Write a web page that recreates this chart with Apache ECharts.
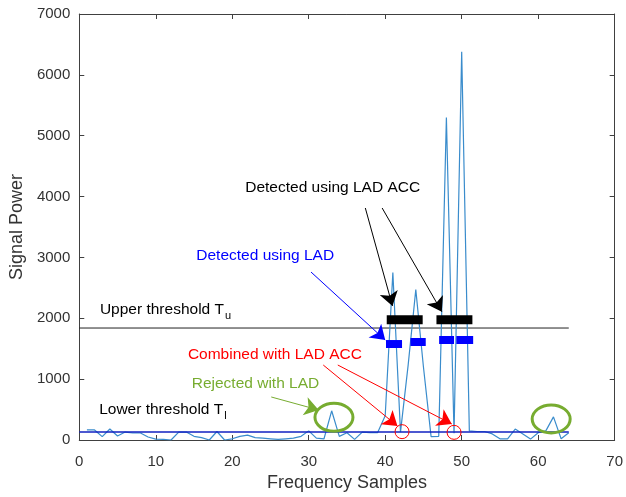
<!DOCTYPE html>
<html>
<head>
<meta charset="utf-8">
<script src="https://cdn.jsdelivr.net/npm/echarts@6/dist/echarts.min.js"></script>
<style>
  html, body { margin: 0; padding: 0; background: #fff; }
  #chart { width: 626px; height: 497px; }
</style>
</head>
<body>
<div id="chart"></div>
<script>
// frequency samples 1..64 and the measured signal power
const samples = Array.from({ length: 64 }, (_, i) => i + 1);
const power = [
  165, 165, 55, 180, 65, 130, 115, 115, 50, 15,
  10, 0, 130, 130, 60, 40, 0, 140, 0, 20,
  60, 80, 40, 30, 20, 10, 20, 30, 60, 150,
  30, 20, 480, 60, 120, 10, 130, 120, 120, 400,
  2750, 130, 1230, 2470, 1200, 55, 60, 5300, 110, 6380,
  150, 140, 140, 100, 20, 20, 180, 100, 15, 120,
  150, 380, 20, 120
];
const xTicks = [0, 10, 20, 30, 40, 50, 60, 70];
const yTicks = [0, 1000, 2000, 3000, 4000, 5000, 6000, 7000];

// thresholds
const upperThreshold = 1840;
const lowerThreshold = 130;
const thresholdEnd = 64;

// detections: [fromSample, toSample, level]
const accBands = [[40.2, 44.9, 1975], [46.7, 51.4, 1975]];
const ladBands = [[40.1, 42.2, 1577], [43.3, 45.3, 1610], [47.05, 49.0, 1643], [49.3, 51.5, 1643]];
// combined (red circles) and rejected (green ellipses) points
const combinedPts = [[42.2, 137], [49.0, 126]];
const rejectedPts = [[33.3, 373], [61.7, 345]];

// annotation texts: [x, y, text, kind]
const notes = [
  [21.7, 4141, "Detected using LAD ACC", "acc"],
  [15.3, 3023, "Detected using LAD", "lad"],
  [2.7, 2136, "Upper threshold T{s|u}", "acc"],
  [14.2, 1397, "Combined with LAD ACC", "comb"],
  [14.7, 920, "Rejected with LAD", "rej"],
  [2.6, 493, "Lower threshold T{s|l}", "acc"]
];
// arrows: [[x0, y0], [x1, y1], kind]
const arrows = [
  [[37.4, 3812], [40.95, 2202], "acc"],
  [[39.6, 3812], [47.4, 2108], "acc"],
  [[30.3, 2760], [40.0, 1643], "lad"],
  [[31.9, 1232], [41.6, 230], "comb"],
  [[33.8, 1232], [48.7, 263], "comb"],
  [[25.1, 707], [31.3, 493], "rej"]
];

const colors = { acc: "#000000", lad: "#0000ff", comb: "#ff0000", rej: "#77ac30" };
const font = "Liberation Sans, Arial, sans-serif";
const axisColor = "#404040";

const chart = echarts.init(document.getElementById("chart"));

function bandSeries(bands, color, width) {
  return bands.map(b => ({
    type: "line",
    data: [[b[0], b[2]], [b[1], b[2]]],
    symbol: "none",
    lineStyle: { color: color, width: width, cap: "butt" },
    z: 5,
    silent: true
  }));
}

const series = [
  {
    type: "line",
    data: samples.map((s, i) => [s, power[i]]),
    symbol: "none",
    lineStyle: { color: "#3a8ccc", width: 1.2 },
    z: 3
  },
  {
    type: "line",
    data: [[0, upperThreshold], [thresholdEnd, upperThreshold]],
    symbol: "none",
    lineStyle: { color: "#222", width: 1 },
    z: 2
  },
  {
    type: "line",
    data: [[0, lowerThreshold], [thresholdEnd, lowerThreshold]],
    symbol: "none",
    lineStyle: { color: "#1020c0", width: 1.5 },
    z: 4
  },
  ...bandSeries(accBands, "#000", 9),
  ...bandSeries(ladBands, "#0000ff", 8),
  {
    type: "lines",
    coordinateSystem: "cartesian2d",
    data: arrows.map(a => ({ coords: [a[0], a[1]], lineStyle: { color: colors[a[2]] } })),
    symbol: ["none", "arrow"],
    symbolSize: [10, 14],
    lineStyle: { width: 1, opacity: 1 },
    z: 6,
    silent: true
  },
  {
    type: "custom",
    data: combinedPts,
    renderItem: (params, api) => {
      const p = api.coord([api.value(0), api.value(1)]);
      return {
        type: "circle",
        shape: { cx: p[0], cy: p[1], r: 7 },
        style: { fill: "none", stroke: "#ff0000", lineWidth: 1 }
      };
    },
    z: 7,
    silent: true
  },
  {
    type: "custom",
    data: rejectedPts,
    renderItem: (params, api) => {
      const p = api.coord([api.value(0), api.value(1)]);
      return {
        type: "ellipse",
        shape: { cx: p[0], cy: p[1], rx: 19, ry: 14 },
        style: { fill: "none", stroke: "#77ac30", lineWidth: 3 }
      };
    },
    z: 7,
    silent: true
  },
  {
    type: "custom",
    data: notes.map(n => [n[0], n[1]]),
    renderItem: (params, api) => {
      const n = notes[params.dataIndex];
      const p = api.coord([n[0], n[1]]);
      return {
        type: "text",
        x: p[0],
        y: p[1],
        style: {
          text: n[2],
          fill: colors[n[3]],
          font: "15.5px " + font,
          verticalAlign: "middle",
          rich: { s: { fontSize: 11, fontFamily: font, fill: colors[n[3]], padding: [12, 0, 0, 1] } }
        }
      };
    },
    z: 8,
    silent: true
  }
];

const baseX = {
  type: "value", min: 0, max: 70, interval: 10,
  axisLine: { show: true, onZero: false, lineStyle: { color: axisColor, width: 1 } },
  axisTick: { show: true, inside: true, length: 5, lineStyle: { color: axisColor } },
  splitLine: { show: false }
};
const baseY = {
  type: "value", min: 0, max: 7000, interval: 1000,
  axisLine: { show: true, onZero: false, lineStyle: { color: axisColor, width: 1 } },
  axisTick: { show: true, inside: true, length: 5, lineStyle: { color: axisColor } },
  splitLine: { show: false }
};

const option = {
  animation: false,
  backgroundColor: "#fff",
  grid: { left: 77, right: 10, top: 14, bottom: 57, containLabel: false },
  xAxis: [
    Object.assign({}, baseX, {
      position: "bottom",
      name: "Frequency Samples",
      nameLocation: "middle",
      nameGap: 34,
      nameTextStyle: { fontFamily: font, fontSize: 18, color: "#333" },
      axisLabel: {
        fontFamily: font, fontSize: 15, color: "#333", margin: 14,
        formatter: v => (xTicks.includes(v) ? String(v) : "")
      }
    }),
    Object.assign({}, baseX, { position: "top", axisLabel: { show: false } })
  ],
  yAxis: [
    Object.assign({}, baseY, {
      position: "left",
      name: "Signal Power",
      nameLocation: "middle",
      nameGap: 44,
      nameTextStyle: { fontFamily: font, fontSize: 18, color: "#333" },
      axisLabel: {
        fontFamily: font, fontSize: 15, color: "#333", margin: 9,
        formatter: v => (yTicks.includes(v) ? String(v) : "")
      }
    }),
    Object.assign({}, baseY, { position: "right", axisLabel: { show: false } })
  ],
  series: series
};

chart.setOption(option);
</script>
</body>
</html>
